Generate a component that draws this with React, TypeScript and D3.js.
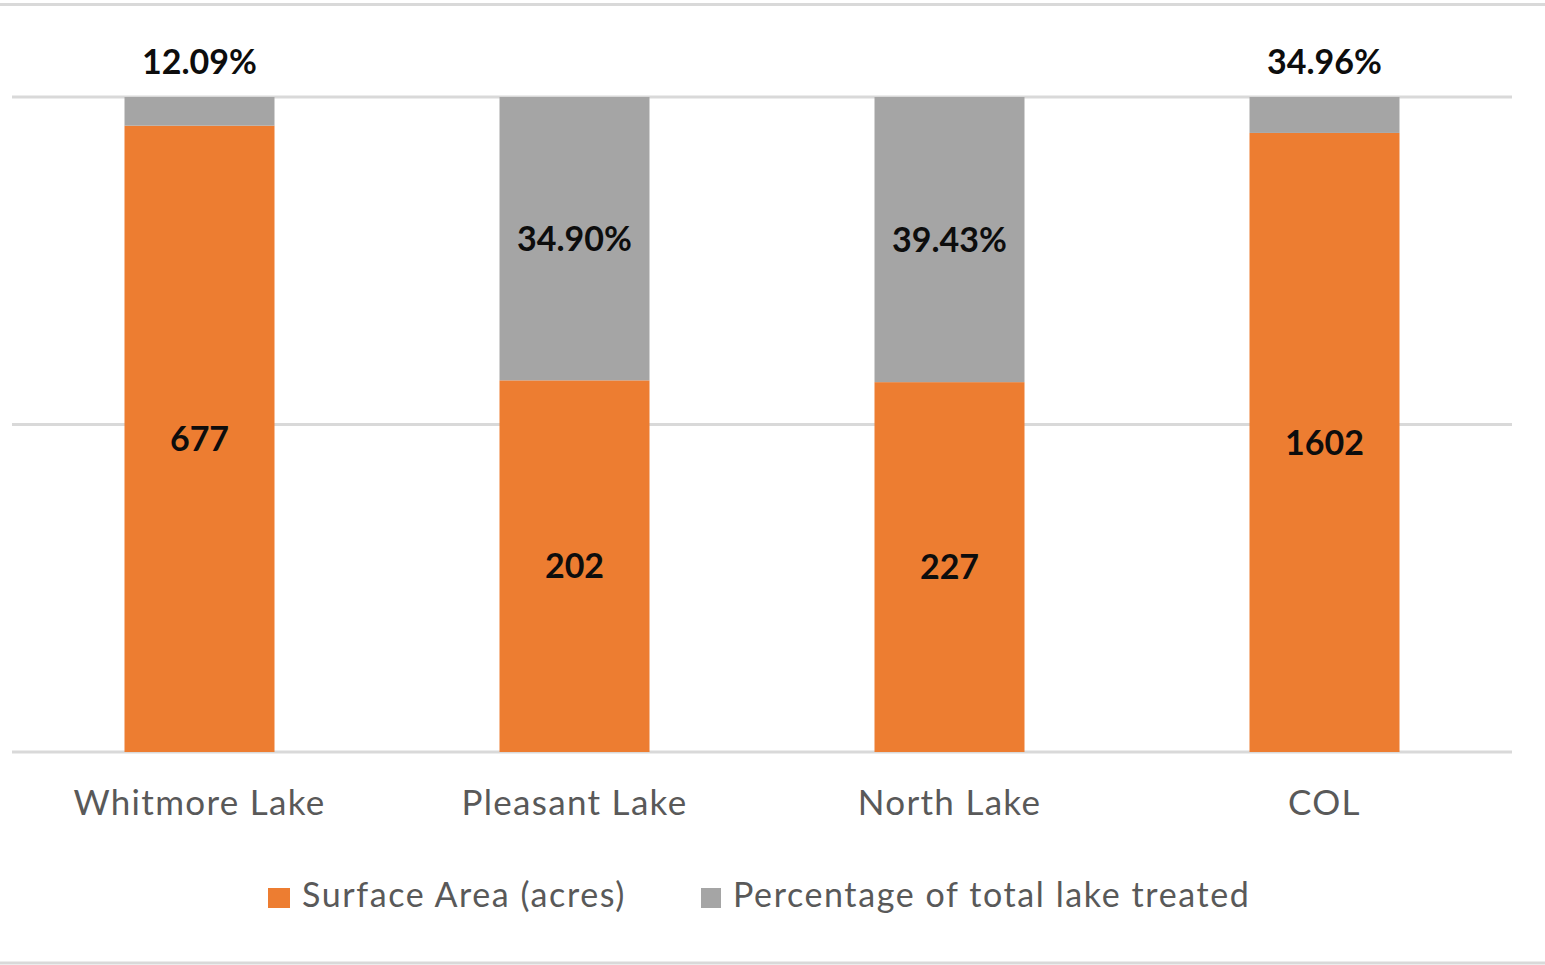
import * as d3 from "d3"

const lakes = ["Whitmore Lake", "Pleasant Lake", "North Lake", "COL"]
const surfaceArea = [677, 202, 227, 1602]
// gray segment sizes (the chart is a 100% stack)
const treatedPart = [31, 154, 175, 93]
const treatedLabels = ["12.09%", "34.90%", "39.43%", "34.96%"]
const gridTicks = [0, 0.5, 1]

const seriesNames = ["Surface Area (acres)", "Percentage of total lake treated"]
const seriesColors = ["#ED7D31", "#A5A5A5"]

const W = 1545
const H = 965
const font = "Lato, 'Open Sans', sans-serif"

export default function App() {
  const rows = lakes.map((lake, i) => ({
    lake,
    area: surfaceArea[i],
    treated: treatedPart[i],
  }))

  const stacked = d3
    .stack<{ lake: string; area: number; treated: number }>()
    .keys(["area", "treated"])
    .offset(d3.stackOffsetExpand)(rows)

  const x = d3.scaleBand().domain(lakes).range([12, 1512]).paddingInner(0.6).paddingOuter(0.3)
  const y = d3.scaleLinear().domain([0, 1]).range([752, 97])

  const [areaLayer, treatedLayer] = stacked

  return (
    <svg
      width={W}
      height={H}
      style={{ position: "absolute", left: 0, top: 0, background: "#fff" }}
    >
      <line x1={0} x2={W} y1={4.5} y2={4.5} stroke="#D9D9D9" strokeWidth={3} />
      <line x1={0} x2={W} y1={963} y2={963} stroke="#D9D9D9" strokeWidth={3} />

      {gridTicks.map((t) => (
        <line
          key={t}
          x1={12}
          x2={1512}
          y1={y(t)}
          y2={y(t)}
          stroke="#D9D9D9"
          strokeWidth={3}
        />
      ))}

      {stacked.map((layer, li) => (
        <g key={layer.key} fill={seriesColors[li]}>
          {layer.map((d, i) => (
            <rect
              key={lakes[i]}
              x={x(lakes[i])}
              y={y(d[1])}
              width={x.bandwidth()}
              height={y(d[0]) - y(d[1])}
            />
          ))}
        </g>
      ))}

      <g fontFamily={font} fontWeight={700} fontSize={34} fill="#0D0D0D" textAnchor="middle">
        {areaLayer.map((d, i) => (
          <text
            key={`a-${i}`}
            x={(x(lakes[i]) || 0) + x.bandwidth() / 2}
            y={(y(d[0]) + y(d[1])) / 2}
            dy="0.36em"
          >
            {surfaceArea[i]}
          </text>
        ))}
        {treatedLayer.map((d, i) => {
          const top = y(d[1])
          const h = y(d[0]) - top
          const cy = h < 60 ? top - 35 : top + h / 2
          return (
            <text
              key={`t-${i}`}
              x={(x(lakes[i]) || 0) + x.bandwidth() / 2}
              y={cy}
              dy="0.36em"
            >
              {treatedLabels[i]}
            </text>
          )
        })}
      </g>

      <g fontFamily={font} fontSize={35} fill="#595959" textAnchor="middle" letterSpacing={1.3}>
        {lakes.map((l) => (
          <text key={l} x={(x(l) || 0) + x.bandwidth() / 2} y={815}>
            {l}
          </text>
        ))}
      </g>

      <g fontFamily={font} fontSize={34} fill="#595959" letterSpacing={1.6}>
        <rect x={268} y={888} width={22} height={20} fill={seriesColors[0]} />
        <text x={302} y={907}>
          {seriesNames[0]}
        </text>
        <rect x={701} y={888} width={20} height={20} fill={seriesColors[1]} />
        <text x={733} y={907}>
          {seriesNames[1]}
        </text>
      </g>
    </svg>
  )
}
